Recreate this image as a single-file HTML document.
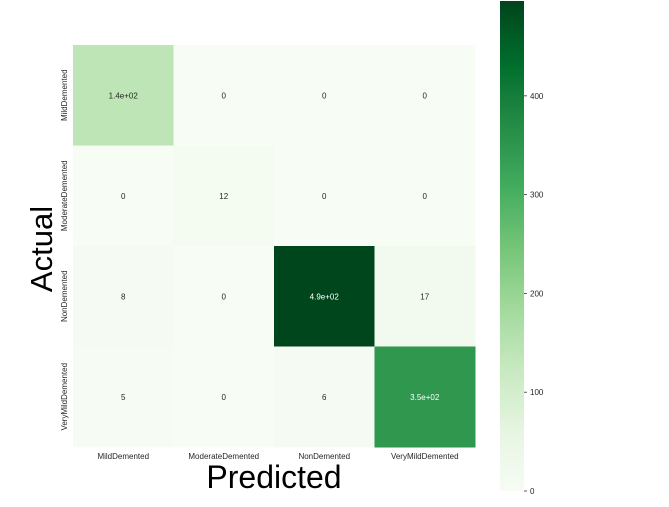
<!DOCTYPE html>
<html><head><meta charset="utf-8"><style>
body{margin:0;background:#fff;}
svg{display:block;font-family:"Liberation Sans",sans-serif;}
</style></head><body>
<svg id="c" width="669" height="507">
<defs><linearGradient id="g" x1="0" y1="1" x2="0" y2="0"></linearGradient></defs>
</svg>
<script>
const classes=["MildDemented","ModerateDemented","NonDemented","VeryMildDemented"];
const row0=[141,0,0,0];
const row1=[0,12,0,0];
const row2=[8,0,493,17];
const row3=[5,0,6,348];
const labels0=["1.4e+02","0","0","0"];
const labels1=["0","12","0","0"];
const labels2=["8","0","4.9e+02","17"];
const labels3=["5","0","6","3.5e+02"];
const cbTicks=[0,100,200,300,400];
const vmax=496;
const rows=[row0,row1,row2,row3],labs=[labels0,labels1,labels2,labels3];
const stops=["#f7fcf5","#e5f5e0","#c7e9c0","#a1d99b","#74c476","#41ab5d","#238b45","#006d2c","#00441b"];
function hex(h){return [1,3,5].map(i=>parseInt(h.substr(i,2),16));}
function cmap(t){t=Math.max(0,Math.min(1,t));const p=t*8,i=Math.min(7,Math.floor(p)),f=p-i;const a=hex(stops[i]),b=hex(stops[i+1]);return "rgb("+a.map((v,k)=>Math.round(v+(b[k]-v)*f)).join(",")+")";}
const NS="http://www.w3.org/2000/svg",svg=document.getElementById("c");
function mk(t,at,txt){const e=document.createElementNS(NS,t);for(const k in at)e.setAttribute(k,at[k]);if(txt!==undefined)e.textContent=txt;svg.appendChild(e);return e;}
const X0=73,Y0=45,CW=100.5;
const xs=i=>X0+i*CW, ys=i=>Y0+i*CW;
rows.forEach((r,ri)=>r.forEach((v,ci)=>{
 const t=v/vmax;
 const rc=mk("rect",{x:xs(ci),y:ys(ri),width:CW+0.5,height:CW+0.5,fill:cmap(t)});
 
 
 const tx=mk("text",{x:xs(ci)+CW/2,y:ys(ri)+CW/2+3,"font-size":8,"text-anchor":"middle",fill:t>0.6?"#fff":"#262626"},labs[ri][ci]);
 
 
}));
classes.forEach((c,i)=>{
 const t=mk("text",{x:xs(i)+CW/2,y:459,"font-size":8,"text-anchor":"middle",fill:"#262626"},c);
 
 
 const cy=ys(i)+CW/2;
 const l=mk("text",{x:0,y:0,"font-size":8,"text-anchor":"middle",fill:"#262626",transform:"translate(67,"+cy+") rotate(-90)"},c);
 
 
});
const xt=mk("text",{x:274,y:488,"font-size":32,"text-anchor":"middle",fill:"#000"},"Predicted");


const yt=mk("text",{x:0,y:0,"font-size":31,"text-anchor":"middle",fill:"#000",transform:"translate(52,249) rotate(-90)"},"Actual");


const g=document.getElementById("g");
stops.forEach((s,i)=>{const st=document.createElementNS(NS,"stop");st.setAttribute("offset",i/8);st.setAttribute("stop-color",s);g.appendChild(st);});
const CB0=491,CB1=1,cbY=v=>CB0-(v/vmax)*(CB0-CB1);
const cb=mk("rect",{x:500,y:CB1,width:24,height:CB0-CB1,fill:"url(#g)"});


cbTicks.forEach(v=>{
 const y=cbY(v);
 const tl=mk("line",{x1:524,x2:527,y1:y,y2:y,stroke:"#333","stroke-width":0.8});
 
 
 const tt=mk("text",{x:530,y:y+3,"font-size":8,fill:"#262626"},String(v));
 
 
});
</script>
</body></html>
